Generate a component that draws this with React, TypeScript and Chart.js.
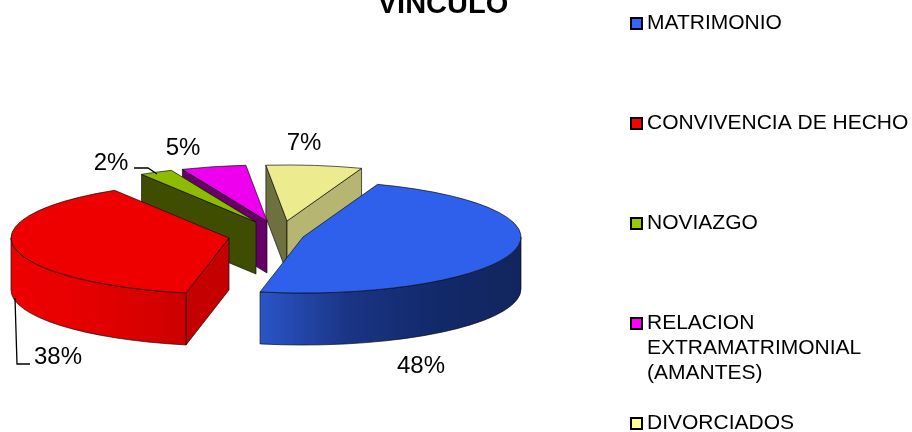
import React, { useEffect, useRef } from "react";
import { Chart, registerables } from "chart.js";

Chart.register(...registerables);

const categories = ["MATRIMONIO", "CONVIVENCIA DE HECHO", "NOVIAZGO", "RELACION EXTRAMATRIMONIAL (AMANTES)", "DIVORCIADOS"];
const values = [47.6, 38.05, 2.45, 4.8, 7.1];

// Styles
const legendLines = [["MATRIMONIO"], ["CONVIVENCIA DE HECHO"], ["NOVIAZGO"], ["RELACION", "EXTRAMATRIMONIAL", "(AMANTES)"], ["DIVORCIADOS"]];
const legendY = [23, 123, 223, 323, 423];
const legendColors = ["#3366FF", "#FF0000", "#99CC00", "#FF00FF", "#FFFF99"];
const topColors = ["#2E60EC", "#EE0000", "#8DBB00", "#EE00EE", "#ECEC8E"];
const startFaceColors = ["#1B3A90", "#C40000", "#3F4D00", "#660066", "#6E7040"];
const endFaceColors = ["#1B3A90", "#C40000", "#3F4D00", "#660066", "#B6B672"];
const rimStops: string[][] = [
  ["#2A55C8", "#1A3585", "#12296A", "#12255E"],
  ["#EE0000", "#E80000", "#DC0000", "#CC0000"],
  ["#3F4D00", "#3F4D00"],
  ["#660066", "#660066"],
  ["#B6B672", "#B6B672"],
];
const explode = [[27, 1.5], [-47, 2.5], [-20, -13.5], [-9, -14.5], [11, -14.5]];
const paintOrder = [4, 3, 2, 1, 0];
const squash = 0.257;
const depth = 52;
const PCT_FONT = "24px 'Liberation Sans', Arial, sans-serif";
const LEGEND_FONT = "21px 'Liberation Sans', Arial, sans-serif";
const TITLE_FONT = "bold 29px 'Liberation Sans', Arial, sans-serif";
const pctLabels: [number, number][] = [[421, 366], [58, 357], [111, 163], [183, 148], [304, 143]];
const leaders = [[], [[15, 298], [17, 364], [30, 364]], [[134, 168], [148, 168], [157, 174]], [], []];

const pie3d = {
  id: "pie3d",
  beforeDatasetDraw(chart: any) {
    const ctx: CanvasRenderingContext2D = chart.ctx;
    const arcs = chart.getDatasetMeta(0).data;
    ctx.save();
    ctx.strokeStyle = "rgba(10,10,10,0.85)";
    ctx.lineWidth = 0.8;
    ctx.lineJoin = "round";
    for (const i of paintOrder) {
      const arc = arcs[i];
      const { x, y, startAngle, endAngle, outerRadius } = arc.getProps(["x", "y", "startAngle", "endAngle", "outerRadius"]);
      const cx = x + explode[i][0];
      const cy = y + explode[i][1];
      const a = outerRadius;
      const b = outerRadius * squash;
      const pt = (t: number) => [cx + a * Math.cos(t), cy + b * Math.sin(t)];
      const face = (t: number, color: string) => {
        const [px, py] = pt(t);
        ctx.beginPath();
        ctx.moveTo(cx, cy);
        ctx.lineTo(px, py);
        ctx.lineTo(px, py + depth);
        ctx.lineTo(cx, cy + depth);
        ctx.closePath();
        ctx.fillStyle = color;
        ctx.fill();
        ctx.stroke();
      };
      // radial faces turned toward the viewer
      if (Math.sin(startAngle - Math.PI / 2) > 0) face(startAngle, startFaceColors[i]);
      if (Math.sin(endAngle + Math.PI / 2) > 0) face(endAngle, endFaceColors[i]);
      // outer rim on the front half
      const lo = Math.max(startAngle, 0);
      const hi = Math.min(endAngle, Math.PI);
      if (hi > lo) {
        const [x1] = pt(lo);
        const [x2] = pt(hi);
        const g = ctx.createLinearGradient(Math.min(x1, x2), 0, Math.max(x1, x2), 0);
        const stops = i === 0 ? rimStops[i] : rimStops[i];
        stops.forEach((c, k) => g.addColorStop(k / (stops.length - 1), c));
        const [hx, hy] = pt(hi);
        ctx.beginPath();
        ctx.ellipse(cx, cy, a, b, 0, lo, hi);
        ctx.lineTo(hx, hy + depth);
        ctx.ellipse(cx, cy + depth, a, b, 0, hi, lo, true);
        ctx.closePath();
        ctx.fillStyle = g;
        ctx.fill();
        ctx.stroke();
      }
      // top face through the library's arc element
      ctx.save();
      ctx.translate(cx, cy);
      ctx.scale(1, squash);
      ctx.translate(-x, -y);
      arc.draw(ctx);
      ctx.restore();
      ctx.beginPath();
      ctx.moveTo(cx, cy);
      ctx.ellipse(cx, cy, a, b, 0, startAngle, endAngle);
      ctx.closePath();
      ctx.stroke();
    }
    ctx.restore();
    return false;
  },
  afterDraw(chart: any) {
    const ctx: CanvasRenderingContext2D = chart.ctx;
    ctx.save();
    ctx.fillStyle = "#000";
    ctx.textBaseline = "middle";
    ctx.textAlign = "center";
    ctx.font = TITLE_FONT;
    ctx.fillText("VINCULO", 443, 5);
    ctx.font = PCT_FONT;
    values.forEach((v, i) => ctx.fillText(`${Math.round(v)}%`, pctLabels[i][0], pctLabels[i][1]));
    ctx.strokeStyle = "#000";
    ctx.lineWidth = 1.3;
    leaders.forEach((l) => {
      if (!l.length) return;
      ctx.beginPath();
      l.forEach(([x, y], k) => (k ? ctx.lineTo(x, y) : ctx.moveTo(x, y)));
      ctx.stroke();
    });
    ctx.textAlign = "left";
    ctx.font = LEGEND_FONT;
    legendLines.forEach((lines, i) => {
      ctx.fillStyle = legendColors[i];
      ctx.strokeStyle = "#000";
      ctx.lineWidth = 2;
      ctx.fillRect(631, legendY[i] - 5, 11, 11);
      ctx.strokeRect(631, legendY[i] - 5, 11, 11);
      ctx.fillStyle = "#000";
      lines.forEach((t, k) => ctx.fillText(t, 647, legendY[i] + k * 25));
    });
    ctx.restore();
  },
};

export default function App() {
  const ref = useRef<HTMLCanvasElement>(null);
  useEffect(() => {
    const chart = new Chart(ref.current!, {
      type: "pie",
      data: {
        labels: categories,
        datasets: [{ data: values, backgroundColor: topColors, borderWidth: 0 }],
      },
      options: {
        responsive: false,
        animation: false,
        rotation: 20,
        radius: 218,
        layout: { padding: { top: 39, right: 360, left: 0, bottom: 0 } },
        plugins: { legend: { display: false }, tooltip: { enabled: false }, title: { display: false } },
      },
      plugins: [pie3d],
    } as any);
    return () => chart.destroy();
  }, []);
  return (
    <div style={{ position: "absolute", left: 0, top: 0, width: 912, height: 432 }}>
      <canvas ref={ref} width={912} height={432} style={{ display: "block" }} />
    </div>
  );
}
